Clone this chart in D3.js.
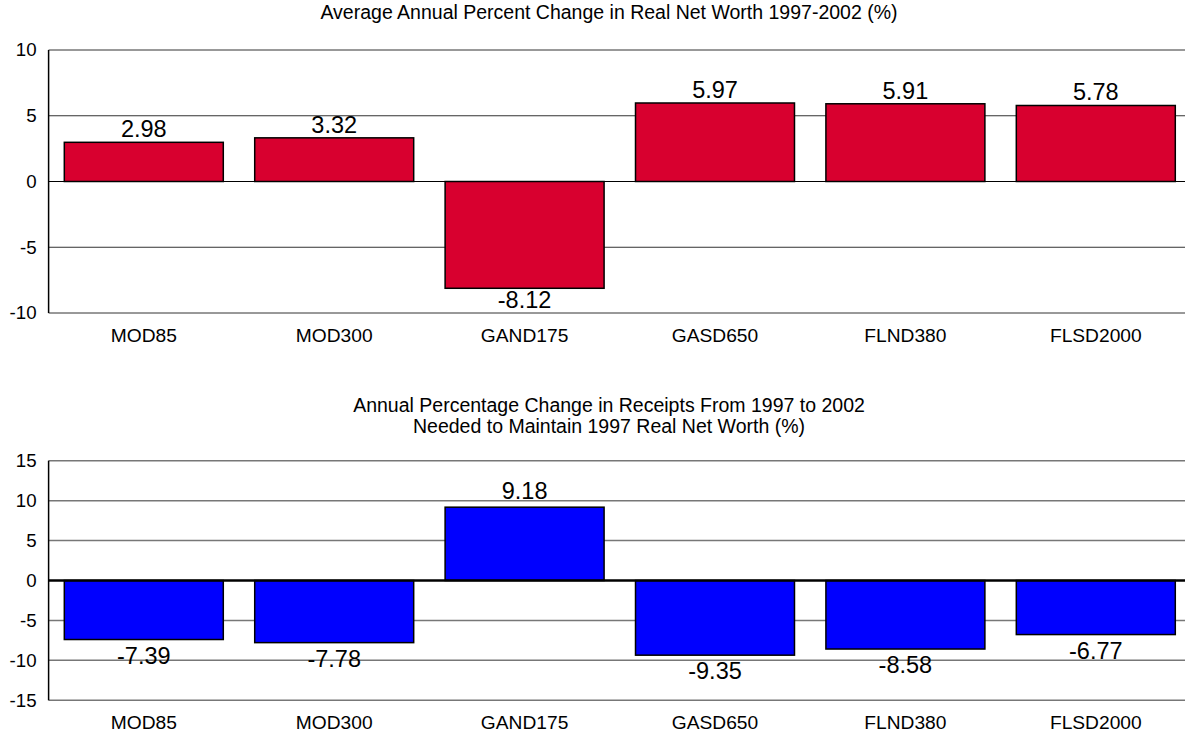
<!DOCTYPE html>
<html>
<head>
<meta charset="utf-8">
<script src="https://cdn.jsdelivr.net/npm/d3@7"></script>
<style>
  html, body { margin: 0; padding: 0; background: #fff; }
  svg { display: block; font-family: "Liberation Sans", Arial, sans-serif; }
</style>
</head>
<body>
<svg id="chart" width="1185" height="736"></svg>
<script>
// Farm types shown on both panels
const categories = ["MOD85", "MOD300", "GAND175", "GASD650", "FLND380", "FLSD2000"];

// Panel 1: average annual percent change in real net worth, 1997-2002
const netWorthChange = [2.98, 3.32, -8.12, 5.97, 5.91, 5.78];
const netWorthTicks = [-10, -5, 0, 5, 10];

// Panel 2: annual change in receipts needed to hold 1997 real net worth
const receiptsChange = [-7.39, -7.78, 9.18, -9.35, -8.58, -6.77];
const receiptsTicks = [-15, -10, -5, 0, 5, 10, 15];

const titles1 = ["Average Annual Percent Change in Real Net Worth 1997-2002 (%)"];
const titles2 = ["Annual Percentage Change in Receipts From 1997 to 2002",
                 "Needed to Maintain 1997 Real Net Worth (%)"];

const svg = d3.select("#chart");

function drawPanel(cfg) {
  const g = svg.append("g");
  const x = d3.scaleBand()
    .domain(categories)
    .range([cfg.left, cfg.right])
    .paddingInner(0.165)
    .paddingOuter(0.0825);
  const y = d3.scaleLinear()
    .domain([cfg.ticks[0], cfg.ticks[cfg.ticks.length - 1]])
    .range([cfg.bottom, cfg.top]);

  // title
  g.selectAll("text.title").data(cfg.titles).join("text")
    .attr("class", "title")
    .attr("x", 609)
    .attr("y", (d, i) => cfg.titleY + i * 21)
    .attr("text-anchor", "middle")
    .attr("font-size", 19.5)
    .attr("fill", "#000")
    .text(d => d);

  // horizontal grid lines
  g.selectAll("line.grid").data(cfg.ticks.filter(t => t !== 0)).join("line")
    .attr("class", "grid")
    .attr("x1", cfg.left).attr("x2", cfg.right)
    .attr("y1", d => y(d)).attr("y2", d => y(d))
    .attr("stroke", cfg.gridColor)
    .attr("stroke-width", cfg.gridWidth);

  // y axis labels (plain hyphen for negatives)
  const yAxis = d3.axisLeft(y).tickValues(cfg.ticks).tickSize(0).tickPadding(12)
    .tickFormat(d => String(d));
  const ya = g.append("g").attr("transform", `translate(${cfg.left},0)`).call(yAxis);
  ya.select(".domain").remove();
  ya.selectAll("text")
    .attr("font-size", 18.7)
    .attr("font-family", "Liberation Sans, Arial, sans-serif")
    .attr("fill", "#000");

  // bars
  g.selectAll("rect.bar").data(cfg.values).join("rect")
    .attr("class", "bar")
    .attr("x", (d, i) => x(categories[i]))
    .attr("width", x.bandwidth())
    .attr("y", d => y(Math.max(0, d)))
    .attr("height", d => Math.abs(y(d) - y(0)))
    .attr("fill", cfg.color)
    .attr("stroke", "#000")
    .attr("stroke-width", 1.5);

  // zero line
  g.append("line")
    .attr("x1", cfg.left).attr("x2", cfg.right)
    .attr("y1", y(0)).attr("y2", y(0))
    .attr("stroke", "#000")
    .attr("stroke-width", cfg.zeroWidth);

  // left axis line
  g.append("line")
    .attr("x1", cfg.left).attr("x2", cfg.left)
    .attr("y1", cfg.top).attr("y2", cfg.bottom)
    .attr("stroke", "#000").attr("stroke-width", 1.5);

  // value labels
  g.selectAll("text.val").data(cfg.values).join("text")
    .attr("class", "val")
    .attr("x", (d, i) => x(categories[i]) + x.bandwidth() / 2)
    .attr("y", d => d >= 0 ? y(d) - cfg.posGap : y(d) + cfg.negGap)
    .attr("text-anchor", "middle")
    .attr("font-size", 23.5)
    .attr("fill", "#000")
    .text(d => d.toFixed(2));

  // category labels
  g.selectAll("text.cat").data(categories).join("text")
    .attr("class", "cat")
    .attr("x", d => x(d) + x.bandwidth() / 2)
    .attr("y", cfg.bottom + cfg.catGap)
    .attr("text-anchor", "middle")
    .attr("font-size", 19.2)
    .attr("fill", "#000")
    .text(d => d);
}

drawPanel({
  values: netWorthChange, ticks: netWorthTicks, titles: titles1,
  left: 48.6, right: 1191, top: 50, bottom: 313, titleY: 19,
  color: "#D8002F", gridColor: "#333", gridWidth: 1, zeroWidth: 1.2,
  posGap: 5, negGap: 19.5, catGap: 29
});

drawPanel({
  values: receiptsChange, ticks: receiptsTicks, titles: titles2,
  left: 48.6, right: 1191, top: 460.7, bottom: 700.3, titleY: 412,
  color: "#0000FF", gridColor: "#777", gridWidth: 1.5, zeroWidth: 2.5,
  posGap: 8, negGap: 24, catGap: 29
});
</script>
</body>
</html>
